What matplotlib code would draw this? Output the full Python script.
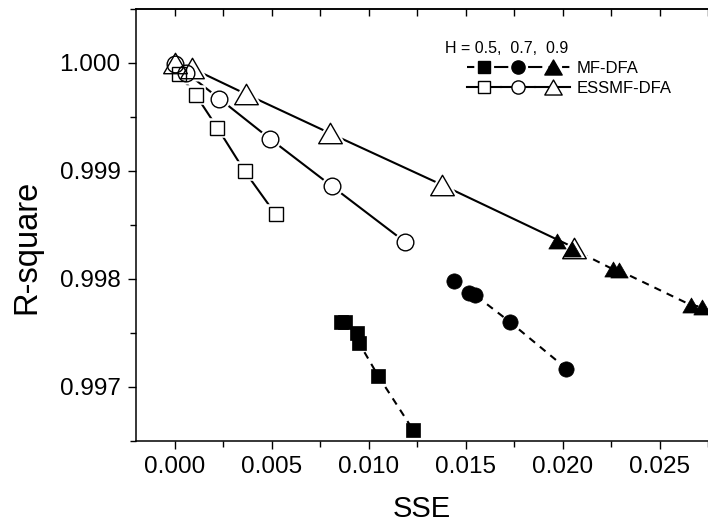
import matplotlib
matplotlib.use("Agg")
import matplotlib.pyplot as plt
from matplotlib.lines import Line2D
from matplotlib.legend_handler import HandlerTuple
from matplotlib.path import Path
from matplotlib.ticker import MultipleLocator

plt.rcParams['font.family'] = ['Liberation Sans', 'DejaVu Sans']

# MF-DFA (filled markers, dashed lines)
mf_05_x = [0.0086, 0.0088, 0.0094, 0.0095, 0.0105, 0.0123]
mf_05_y = [0.99760, 0.99760, 0.99750, 0.99741, 0.99710, 0.99660]
mf_07_x = [0.0144, 0.0152, 0.0155, 0.0173, 0.0202]
mf_07_y = [0.99798, 0.99787, 0.99785, 0.99760, 0.99717]
mf_09_x = [0.0197, 0.0205, 0.0226, 0.0229, 0.0266, 0.0272]
mf_09_y = [0.99835, 0.99828, 0.99809, 0.99808, 0.99776, 0.99774]

# ESSMF-DFA (open markers, solid lines)
ess_05_x = [0.0002, 0.0011, 0.0022, 0.0036, 0.0052]
ess_05_y = [0.99990, 0.99970, 0.99940, 0.99900, 0.99860]
ess_07_x = [0.0000, 0.0006, 0.0023, 0.0049, 0.0081, 0.0119]
ess_07_y = [0.99999, 0.99991, 0.99967, 0.99930, 0.99886, 0.99834]
ess_09_x = [0.0000, 0.0009, 0.0037, 0.0080, 0.0138, 0.0206]
ess_09_y = [1.00000, 0.99995, 0.99971, 0.99935, 0.99887, 0.99829]

legend_title = "H = 0.5,  0.7,  0.9"
legend_labels = ["MF-DFA", "ESSMF-DFA"]

tri = Path([(-1, -0.866), (1, -0.866), (0, 0.866), (-1, -0.866)], closed=True)

fig = plt.figure(figsize=(7.08, 5.29), dpi=100)
ax = fig.add_axes([0.192, 0.1664, 0.808, 0.8166])

lw = 1.5
dash = (3.5, 3.0)

# open series: line, white mask, outline
ess = [(ess_05_x, ess_05_y, 's', 10.5),
       (ess_07_x, ess_07_y, 'o', 12),
       (ess_09_x, ess_09_y, tri, 17)]
for x, y, m, s in ess:
    ax.plot(x, y, '-', color='k', lw=lw, zorder=2)
for x, y, m, s in ess:
    ax.plot(x, y, ls='none', marker=m, ms=s, mfc='white', mec='white',
            mew=4, zorder=3)
for x, y, m, s in ess:
    ax.plot(x, y, ls='none', marker=m, ms=s, mfc='none', mec='k',
            mew=1.0, zorder=4)

# filled series
mf = [(mf_05_x, mf_05_y, 's', 9.5),
      (mf_07_x, mf_07_y, 'o', 11),
      (mf_09_x, mf_09_y, tri, 12.5)]
for x, y, m, s in mf:
    ax.plot(x, y, color='k', lw=lw, dashes=dash, zorder=2)
    ax.plot(x, y, ls='none', marker=m, ms=s, mfc='k', mec='k',
            mew=0.5, zorder=5)

ax.set_xlim(-0.002, 0.0275)
ax.set_ylim(0.9965, 1.0005)
ax.xaxis.set_major_locator(MultipleLocator(0.005))
ax.xaxis.set_minor_locator(MultipleLocator(0.0025))
ax.yaxis.set_major_locator(MultipleLocator(0.001))
ax.yaxis.set_minor_locator(MultipleLocator(0.0005))
ax.xaxis.set_major_formatter(matplotlib.ticker.FormatStrFormatter('%.3f'))
ax.yaxis.set_major_formatter(matplotlib.ticker.FormatStrFormatter('%.3f'))

for sp in ax.spines.values():
    sp.set_linewidth(1.1)
ax.spines['right'].set_visible(False)

ax.tick_params(axis='both', which='both', direction='out', labelsize=17.5,
               width=1.0, right=False, top=False)
ax.tick_params(axis='both', which='major', length=6, pad=5)
ax.tick_params(axis='both', which='minor', length=4)

top = ax.secondary_xaxis('top')
top.xaxis.set_major_locator(MultipleLocator(0.005))
top.xaxis.set_minor_locator(MultipleLocator(0.0025))
top.tick_params(axis='x', which='both', direction='in', length=5, width=1.0,
                labeltop=False)
top.spines['top'].set_linewidth(1.1)

ax.set_xlabel("SSE", fontsize=21, labelpad=12)
ax.set_ylabel("R-square", fontsize=23.5)
ax.yaxis.set_label_coords(-0.163, 0.45)

# legend
h_mf = tuple(Line2D([], [], color='k', lw=lw, dashes=dash, marker=m,
                    ms=s, mfc='k', mec='k')
             for m, s in [('s', 8.5), ('o', 9.5), (tri, 12.5)])
h_ess = tuple(Line2D([], [], color='k', lw=lw, marker=m, ms=s,
                     mfc='white', mec='k', mew=1.0)
              for m, s in [('s', 8.5), ('o', 9.5), (tri, 12.5)])
ax.legend([h_mf, h_ess], legend_labels,
          handler_map={tuple: HandlerTuple(ndivide=None, pad=0.0)},
          loc='center left', bbox_to_anchor=(0.578, 0.840), frameon=False,
          borderpad=0, borderaxespad=0, handlelength=6.2, handletextpad=0.4,
          labelspacing=0.3, fontsize=12)
ax.text(0.540, 0.9097, legend_title, transform=ax.transAxes, fontsize=11.5,
        ha='left', va='center')

fig.savefig("out.png", dpi=100)
